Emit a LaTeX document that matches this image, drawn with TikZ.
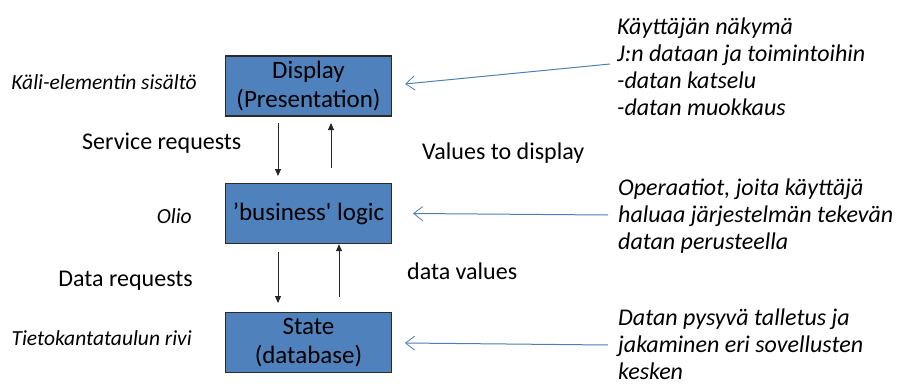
\documentclass[tikz,border=0pt]{standalone}
\usepackage{fontspec}
\setmainfont{Carlito}
\usetikzlibrary{arrows.meta}

\definecolor{boxfill}{HTML}{4F81BD}
\definecolor{boxline}{HTML}{2B2B2B}
\definecolor{pointer}{HTML}{4A7EBB}

\tikzset{
  layer/.style={draw=boxline, line width=1.4pt, fill=boxfill, minimum width=166pt,
    minimum height=60pt, align=center, inner sep=0pt,
    font=\fontsize{25}{28.5}\selectfont},
  flow/.style={-{Triangle[length=7pt,width=6pt]}, line width=0.9pt, black!85},
  pointarrow/.style={-{Straight Barb[length=9pt,width=14pt,line width=0.8pt]}, draw=pointer, line width=1pt},
  lbl/.style={inner sep=0pt, font=\fontsize{24}{27}\selectfont},
  role/.style={inner sep=0pt, anchor=east, font=\fontsize{21.5}{24}\selectfont\itshape},
  note/.style={inner sep=0pt, anchor=west, align=left, font=\fontsize{24}{27}\selectfont\itshape}
}

\begin{document}
\begin{tikzpicture}[x=1pt, y=-1pt]
\useasboundingbox (0,0) rectangle (898,386);

% the three layers
\node[layer] (disp)  at (308.5,86)    {Display\\(Presentation)};
\node[layer] (logic) at (308.5,213.5) {’business\textquotesingle{} logic};
\node[layer] (state) at (308.5,342.5) {State\\(database)};

% requests going down, results coming back up
\coordinate (sr1) at (278,123);  \coordinate (sr2) at (278,176);
\coordinate (vd1) at (331,168);  \coordinate (vd2) at (331,123);
\coordinate (dr1) at (278,252);  \coordinate (dr2) at (278,303);
\coordinate (dv1) at (339,297);
\draw[flow] (sr1) -- (sr2);
\draw[flow] (vd1) -- (vd2);
\draw[flow] (dr1) -- (dr2);
\draw[flow] (dv1) -- (dv1 |- logic.south);

\node[lbl, anchor=west] (srl) at (82,143) {Service requests};
\node[lbl, anchor=west] (vdl) at (422,153) {Values to display};
\node[lbl, anchor=east] (drl) at (193,281) {Data requests};
\node[lbl, anchor=west] (dvl) at (407,271) {data values};

% what each layer stands for
\node[role] (r1) at (197,82)  {Käli-elementin sisältö};
\node[role] (r2) at (192,216) {Olio};
\node[role] (r3) at (192,338) {Tietokantataulun rivi};

% explanations on the right
\node[note] (n1) at (617,67) {Käyttäjän näkymä\\J:n dataan ja toimintoihin\\-datan katselu\\-datan muokkaus};
\node[note] (n2) at (618,216) {Operaatiot, joita käyttäjä\\haluaa järjestelmän tekevän\\datan perusteella};
\node[note] (n3) at (618,344) {Datan pysyvä talletus ja\\jakaminen eri sovellusten\\kesken};

\coordinate (p1) at (610,64);  \coordinate (q1) at (405,84);
\coordinate (p2) at (608,215); \coordinate (q2) at (413,213.5);
\coordinate (p3) at (608,345); \coordinate (q3) at (405,343);
\draw[pointarrow] (p1) -- (q1);
\draw[pointarrow] (p2) -- (q2);
\draw[pointarrow] (p3) -- (q3);
\end{tikzpicture}
\end{document}
